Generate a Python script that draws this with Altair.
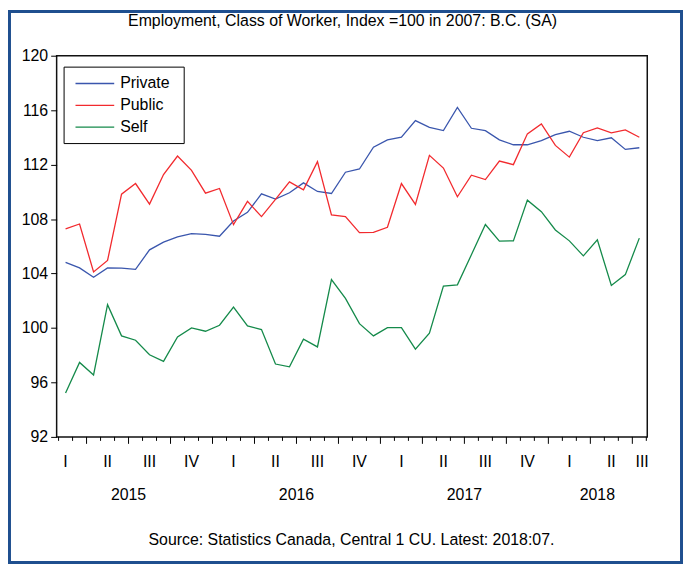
import altair as alt
import pandas as pd

# ---- data ----
months = pd.date_range("2015-02-01", "2018-07-01", freq="MS").strftime("%Y-%m").tolist()
series_names = ["Private", "Public", "Self"]
series_colors = ["#3a56ad", "#f22a2e", "#148a4a"]

private = [104.82, 104.41, 103.72, 104.41, 104.39, 104.31, 105.74, 106.31, 106.69, 106.93,
           106.88, 106.74, 107.86, 108.50, 109.85, 109.47, 109.93, 110.66, 110.03, 109.88,
           111.44, 111.68, 113.28, 113.82, 114.01, 115.23, 114.74, 114.50, 116.20, 114.67,
           114.50, 113.82, 113.46, 113.46, 113.77, 114.20, 114.45, 114.01, 113.77, 113.97,
           113.12, 113.24]
public = [107.28, 107.64, 104.12, 104.96, 109.83, 110.61, 109.10, 111.27, 112.63, 111.58,
          109.90, 110.25, 107.59, 109.30, 108.18, 109.45, 110.73, 110.15, 112.22, 108.31,
          108.18, 107.00, 107.02, 107.40, 110.61, 109.08, 112.68, 111.75, 109.64, 111.22,
          110.90, 112.26, 112.00, 114.26, 114.99, 113.41, 112.55, 114.34, 114.70, 114.34,
          114.55, 114.01]
self_emp = [95.23, 97.47, 96.55, 101.71, 99.42, 99.10, 98.03, 97.55, 99.34, 100.00,
            99.76, 100.20, 101.53, 100.15, 99.88, 97.35, 97.15, 99.18, 98.61, 103.55,
            102.17, 100.32, 99.42, 100.03, 100.03, 98.45, 99.61, 103.07, 103.17, 105.38,
            107.60, 106.38, 106.40, 109.39, 108.54, 107.20, 106.40, 105.30, 106.47, 103.12,
            103.92, 106.60]

y_ticks = [92, 96, 100, 104, 108, 112, 116, 120]
quarter_names = ["I", "II", "III", "IV"]
title_text = "Employment, Class of Worker, Index =100 in 2007: B.C. (SA)"
source_text = "Source: Statistics Canada, Central 1 CU. Latest: 2018:07."

FONT = "Liberation Sans"
FS = 16

# ---- derived tables ----
n = len(months)
rows = []
for name, vals in zip(series_names, [private, public, self_emp]):
    for i, (m, v) in enumerate(zip(months, vals)):
        rows.append({"i": i, "month": m, "value": v, "series": name})
df = pd.DataFrame(rows)

yr = [int(m[:4]) for m in months]
mo = [int(m[5:]) for m in months]

# month boundary ticks (between consecutive months), long at quarter boundaries
tick_rows = []
for i in range(-1, n):
    nxt_month = (mo[0] + i) % 12 + 1  # month that starts after position i
    tick_rows.append({"t": i + 0.5, "major": (nxt_month - 1) % 3 == 0})
ticks = pd.DataFrame(tick_rows)

# quarter labels at the middle month of each quarter
q_rows = []
for i in range(-1, n + 2):
    m_no = (mo[0] - 1 + i) % 12 + 1
    if m_no % 3 == 2:
        pos = min(i, n - 1 + 0.2)
        if -0.5 <= i <= n + 1:
            q_rows.append({"pos": pos, "lab": quarter_names[(m_no - 1) // 3]})
quarters = pd.DataFrame(q_rows)

years = sorted(set(yr))
y_rows = []
for y in years:
    idx = [i for i in range(n) if yr[i] == y]
    first = idx[0] - (mo[idx[0]] - 1)
    last = idx[-1]
    y_rows.append({"pos": (first + last) / 2, "lab": str(y)})
years_df = pd.DataFrame(y_rows)

legend_df = pd.DataFrame({"series": series_names, "row": list(range(len(series_names)))})

one = alt.Data(values=[{}])

x_scale = alt.Scale(domain=[-0.638, 41.567], nice=False, zero=False)

lines = alt.Chart(df).mark_line(strokeWidth=1.3).encode(
    x=alt.X("i:Q", scale=x_scale, axis=None),
    y=alt.Y("value:Q",
            scale=alt.Scale(domain=[92, 120], nice=False, zero=False),
            axis=alt.Axis(values=y_ticks, title=None, grid=False, domain=False,
                          tickSize=6, tickColor="black", labelPadding=3,
                          labelFont=FONT, labelFontSize=FS, labelColor="black")),
    color=alt.Color("series:N", scale=alt.Scale(domain=series_names, range=series_colors), legend=None),
    detail="series:N",
)

border = alt.Chart(one).mark_rect(fill=None, stroke="#1f4f8f", strokeWidth=3).encode(
    x=alt.value(-47.5), x2=alt.value(629.5), y=alt.value(-44.5), y2=alt.value(510.5))

minor_ticks = alt.Chart(ticks).transform_filter("!datum.major").mark_rule(color="black", strokeWidth=1).encode(
    x="t:Q", y=alt.value(384), y2=alt.value(388))
major_ticks = alt.Chart(ticks).transform_filter("datum.major").mark_rule(color="black", strokeWidth=1).encode(
    x="t:Q", y=alt.value(384), y2=alt.value(391))

q_text = alt.Chart(quarters).mark_text(font=FONT, fontSize=FS, color="black", baseline="alphabetic").encode(
    x="pos:Q", y=alt.value(414), text="lab:N")
y_text = alt.Chart(years_df).mark_text(font=FONT, fontSize=FS, color="black", baseline="alphabetic").encode(
    x="pos:Q", y=alt.value(448), text="lab:N")

title = alt.Chart(one).mark_text(font=FONT, fontSize=FS, color="black", baseline="alphabetic",
                                 text=title_text).encode(x=alt.value(288), y=alt.value(-30))
source = alt.Chart(one).mark_text(font=FONT, fontSize=FS, color="black", baseline="alphabetic",
                                  text=source_text).encode(x=alt.value(297), y=alt.value(493))

leg_box = alt.Chart(one).mark_rect(fill="white", stroke="black", strokeWidth=1).encode(
    x=alt.value(7.5), x2=alt.value(128.5), y=alt.value(11.5), y2=alt.value(88.5))
leg_y = alt.Y("row:Q", scale=alt.Scale(domain=[0, 2], range=[28, 72], nice=False, zero=False), axis=None)
leg_lines = alt.Chart(legend_df).mark_rule(strokeWidth=1.3).encode(
    x=alt.value(19), x2=alt.value(58), y=leg_y,
    color=alt.Color("series:N", scale=alt.Scale(domain=series_names, range=series_colors), legend=None))
leg_text = alt.Chart(legend_df).mark_text(font=FONT, fontSize=FS, color="black", align="left",
                                          baseline="middle").encode(
    x=alt.value(64), y=leg_y, text="series:N")

legend = alt.layer(leg_lines, leg_text)

chart = alt.layer(
    border, lines, leg_box, legend,
    minor_ticks, major_ticks, q_text, y_text, title, source,
).resolve_scale(y="independent").properties(
    width=595, height=384,
    padding={"left": 49, "top": 46, "right": 36, "bottom": 128},
    autosize=alt.AutoSizeParams(type="none"),
    background="white",
).configure_view(stroke="#111", strokeWidth=1.5)

chart.save("out.html", embed_options={"renderer": "svg", "actions": False})
